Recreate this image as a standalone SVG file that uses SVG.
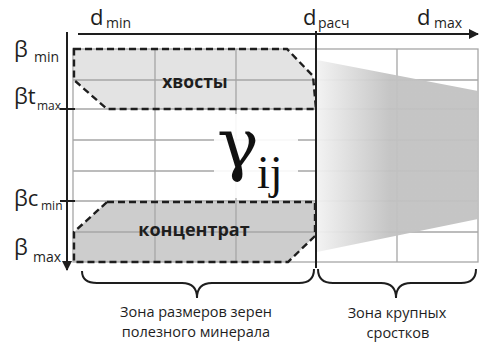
<svg xmlns="http://www.w3.org/2000/svg" width="480" height="343" viewBox="0 0 480 343">
  <style>
    .grid { stroke: #a6a6a6; stroke-width: 1.3; fill: none; }
    .dash { stroke: #1e1e1e; stroke-width: 2.4; stroke-dasharray: 7 4; fill: none; }
    .axis { stroke: #1e1e1e; stroke-width: 2; fill: none; }
    .brace { stroke: #1e1e1e; stroke-width: 2; fill: none; }
    .lbl { font-family: "Open Sans", "Liberation Sans", sans-serif; fill: #1e1e1e; }
    .zone { font-family: "Open Sans", "Liberation Sans", sans-serif; font-size: 14.5px; fill: #1e1e1e; text-anchor: middle; }
    .bold { font-family: "Open Sans", "Liberation Sans", sans-serif; font-weight: bold; fill: #1e1e1e; text-anchor: middle; }
  </style>
  <defs>
    <linearGradient id="coarseFade" gradientUnits="userSpaceOnUse" x1="317" y1="0" x2="390" y2="0">
      <stop offset="0" stop-color="#f2f2f2"/>
      <stop offset="1" stop-color="#c2c2c2"/>
    </linearGradient>
    <marker id="arrow" viewBox="0 0 10 10" refX="9" refY="5" markerWidth="5" markerHeight="5" orient="auto">
      <path d="M0,0 L10,5 L0,10 z" fill="#1e1e1e"/>
    </marker>
  </defs>

  <rect width="480" height="343" fill="#ffffff"/>

  <!-- region fills -->
  <g id="tails-fill">
    <polygon points="74,49 287,49 313,76 316,109 107,109 74,80" fill="#e3e3e3"/>
  </g>
  <g id="concentrate-fill">
    <polygon points="107,202 315,202 315,236 288,262 74,262 74,232" fill="#cdcdcd"/>
  </g>

  <!-- size / fraction grid -->
  <g id="grid">
    <rect class="grid" x="73" y="49" width="405" height="213"/>
    <path class="grid" d="M73,80 H478 M73,109 H478 M73,140 H478 M73,171 H478 M73,201 H478 M73,232 H478"/>
    <path class="grid" d="M155,49 V262 M236,49 V262 M397,49 V262"/>
  </g>

  <!-- coarse intergrowth wedge -->
  <g id="coarse-wedge">
    <polygon points="317,60 478,91 478,219 317,252" fill="url(#coarseFade)" opacity="0.95"/>
  </g>

  <!-- backing behind the gamma label -->
  <rect x="214" y="114" width="84" height="84" fill="#ffffff" opacity="0.9"/>

  <!-- region outlines -->
  <g id="tails">
    <polygon class="dash" points="74,49 287,49 313,76 316,109 107,109 74,80"/>
    <text class="bold" x="195" y="88" font-size="17.5">хвосты</text>
  </g>
  <g id="concentrate">
    <polygon class="dash" points="107,202 315,202 315,236 288,262 74,262 74,232"/>
    <text class="bold" x="194" y="236" font-size="18">концентрат</text>
  </g>

  <!-- axes and boundary -->
  <g id="connectors">
    <line class="axis" x1="78" y1="34" x2="478" y2="34" marker-end="url(#arrow)"/>
    <line class="axis" x1="67" y1="32" x2="67" y2="270" marker-end="url(#arrow)"/>
    <line class="axis" x1="316" y1="31" x2="316" y2="268"/>
    <line class="axis" x1="60" y1="109" x2="75" y2="109"/>
    <line class="axis" x1="60" y1="201" x2="75" y2="201"/>
    <path class="brace" d="M82,271 Q82,283 97,283 L182,283 Q197,283 197,298 Q197,283 212,283 L299,283 Q314,283 314,269"/>
    <path class="brace" d="M318,269 Q318,283 333,283 L381,283 Q396,283 396,298 Q396,283 411,283 L461,283 Q476,283 476,269"/>
  </g>

  <!-- size axis labels -->
  <g id="d-labels">
    <text class="lbl" x="90" y="25" font-size="22">d</text>
    <text class="lbl" x="106" y="28" font-size="14">min</text>
    <text class="lbl" x="303" y="25" font-size="22">d</text>
    <text class="lbl" x="318" y="28" font-size="14">расч</text>
    <text class="lbl" x="417" y="25" font-size="22">d</text>
    <text class="lbl" x="434" y="28" font-size="14">max</text>
  </g>

  <!-- fraction axis labels -->
  <g id="beta-labels">
    <text class="lbl" x="14" y="57" font-size="22">β</text>
    <text class="lbl" x="34" y="62" font-size="14">min</text>
    <text class="lbl" x="14" y="104" font-size="22">βt</text>
    <text class="lbl" x="37" y="110" font-size="12">max</text>
    <text class="lbl" x="14" y="206" font-size="22">βc</text>
    <text class="lbl" x="41" y="210" font-size="12">min</text>
    <text class="lbl" x="14" y="255" font-size="22">β</text>
    <text class="lbl" x="33" y="262" font-size="14">max</text>
  </g>

  <g id="gamma">
    <text x="217" y="168" font-family="DejaVu Serif, serif" font-size="70" fill="#111">γ</text>
    <text x="257" y="188" font-family="Liberation Serif, serif" font-size="46" fill="#111">ij</text>
  </g>

  <g id="zone-labels">
    <text class="zone" x="196" y="317">Зона размеров зерен</text>
    <text class="zone" x="196" y="337">полезного минерала</text>
    <text class="zone" x="397" y="318">Зона крупных</text>
    <text class="zone" x="398" y="338">сростков</text>
  </g>
</svg>
